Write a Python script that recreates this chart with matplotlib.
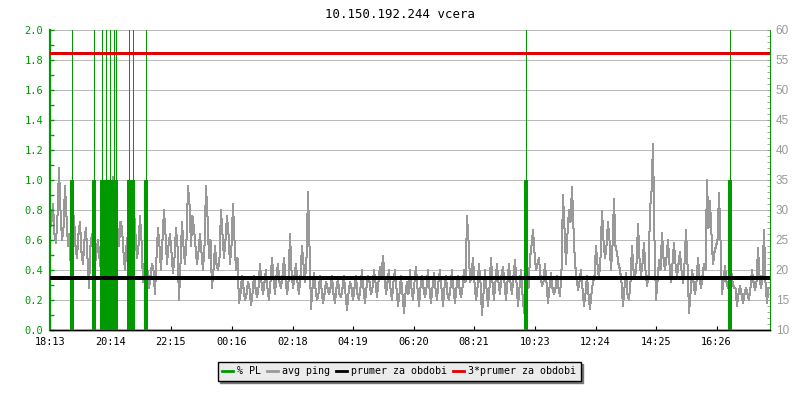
import numpy as np
import matplotlib
matplotlib.use("Agg")
import matplotlib.pyplot as plt
from matplotlib.ticker import MultipleLocator, FormatStrFormatter

# avg ping [ms], read every 6 minutes starting 18:13 (local peaks / dips)
ping_step = 6
ping_values = [
    # 18:13 - 22:13
    27, 31, 24.5, 37, 25, 34, 24, 19.5, 29, 22, 28, 21, 27, 17, 26, 21, 25, 20, 32, 24,
    31, 35.5, 33, 24, 27, 20, 26, 21, 30, 22, 29, 18, 22, 17, 21, 16, 27, 20, 30, 21,
    # 22:13 - 02:13
    26, 19.5, 27, 15, 28, 21, 34, 24, 27, 21, 26, 20, 34, 22, 17, 24, 20, 30, 22, 29,
    21, 31, 20, 14.5, 19, 15, 18, 14.2, 19, 15.5, 21, 16, 20, 15, 22, 16, 21, 17, 22, 16,
    # 02:13 - 06:13
    26, 17, 21, 16, 24, 18, 33, 13.5, 19.5, 15, 19, 14.5, 18, 16, 19, 14.5, 18.5, 15.5, 19, 13.4,
    18, 15, 19, 15, 20, 14.5, 19, 16, 20, 15.5, 20.5, 22.3, 16, 20, 15, 20, 14, 19, 12.9, 18,
    # 06:13 - 10:13
    20, 15, 20.5, 14, 19, 15.5, 20, 14.5, 19.5, 15, 20, 14, 19, 15, 20, 14.5, 19, 15.5, 20, 29,
    18, 22, 15, 21, 12.5, 20, 14, 22, 15, 21, 16, 20.5, 15, 21, 16, 21.7, 14, 20, 12.8, 19,
    # 10:13 - 14:13
    22, 26.7, 20, 22, 17.3, 21, 14.5, 19.5, 16, 19, 15.6, 32.5, 21, 30, 33.8, 21, 16.7, 20, 14, 19,
    13.5, 18, 24, 18.5, 29.9, 22, 28, 20, 31.8, 22.8, 20, 14, 19.5, 15, 24, 18.5, 27.7, 19, 24.5, 17.3,
    # 14:13 - 18:13
    30, 41, 15, 21.7, 26.2, 20, 25, 18, 24.5, 19, 23, 17.8, 26.7, 12.8, 20, 16, 22, 17, 21, 35,
    31.5, 21, 24, 32.8, 16, 20.6, 17, 20, 17, 14, 17.3, 14.5, 17, 15, 20, 16.7, 23.7, 17, 26.7, 14.5,
]
# avg ping in between (3 minutes after each reading above), middle of the band
ping_mid = [
    28, 26, 29, 30, 27, 29, 26, 25, 24, 26, 23, 25, 22, 24, 21, 23, 22, 27, 28, 26,
    29, 30, 27, 28, 23, 24, 22, 25, 26, 24, 25, 21, 20, 19, 20, 22, 24, 25, 26, 24,
    23, 22, 24, 21, 24, 25, 31, 29, 24, 23, 23, 24, 29, 25, 20, 21, 22, 26, 25, 26,
    24, 25, 22, 16, 17, 16, 17, 16, 17, 17, 18, 18, 17, 18, 19, 19, 18, 19, 19, 18,
    20, 19, 18, 19, 21, 22, 24, 17, 17, 16, 17, 16, 17, 17, 16, 17, 16, 17, 16, 16,
    17, 17, 16, 17, 17, 17, 18, 17, 18, 18, 19, 19, 18, 17, 18, 17, 16, 16, 16, 16,
    17, 18, 17, 17, 17, 17, 17, 17, 17, 18, 17, 17, 16, 17, 17, 17, 17, 17, 18, 25,
    19, 18, 17, 18, 16, 17, 17, 18, 18, 18, 19, 18, 18, 18, 19, 18, 17, 16, 16, 17,
    24, 23, 21, 19, 18, 18, 17, 17, 17, 17, 20, 27, 26, 28, 27, 19, 18, 17, 16, 16,
    16, 19, 21, 22, 25, 24, 25, 24, 24, 21, 18, 17, 16, 18, 20, 21, 22, 21, 20, 19,
    33, 25, 18, 20, 22, 22, 21, 21, 21, 21, 20, 21, 21, 16, 18, 18, 19, 19, 20, 27,
    26, 23, 25, 25, 18, 18, 19, 18, 17, 16, 16, 16, 16, 17, 18, 18, 19, 19, 18, 17,
]

# packet loss spikes [minutes after 18:13]
pl_times = [43, 87, 103, 111, 119, 127, 132, 158, 165, 191, 951, 1360]
pl_avg = [1.0, 1.0, 1.0, 1.0, 1.0, 1.0, 1.0, 1.0, 1.0, 1.0, 1.0, 1.0]
pl_max = [2.0, 2.0, 2.0, 2.0, 2.0, 2.0, 2.0, 2.0, 2.0, 2.0, 2.0, 2.0]

prumer = 18.7  # average ping over the period

tick_pos = [0, 121, 242, 363, 485, 606, 727, 848, 970, 1091, 1212, 1333]
tick_labels = ["18:13", "20:14", "22:15", "00:16", "02:18", "04:19",
               "06:20", "08:21", "10:23", "12:24", "14:25", "16:26"]

GREEN = "#009900"
GRAY = "#999999"
RED = "#e00000"
PX = 0.72  # one pixel in points at dpi 100

plt.rcParams["font.family"] = ["DejaVu Sans Mono", "Liberation Mono"]

fig = plt.figure(figsize=(8, 4), dpi=100)
ax2 = fig.add_axes([0.0625, 0.175, 0.9, 0.75])   # right axis: ping
ax = ax2.twinx()                                   # left axis: PL
ax.yaxis.tick_left()
ax2.yaxis.tick_right()
ax.set_zorder(ax2.get_zorder() + 1)
ax.patch.set_visible(False)

# ping series, readings and in-between values interleaved
t = np.arange(2 * len(ping_values)) * (ping_step / 2)
ping = np.ravel(np.column_stack([ping_values, ping_mid]))
ax2.plot(t, ping, color=GRAY, lw=PX, antialiased=False, zorder=2)
ax2.set_ylim(10, 60)
ax2.set_xlim(0, 1440)
ax2.yaxis.set_major_locator(MultipleLocator(5))
ax2.yaxis.set_minor_locator(MultipleLocator(1))
ax2.grid(axis="y", color="#bbbbbb", lw=PX, antialiased=False, zorder=0)
ax2.tick_params(axis="y", which="both", direction="in", colors=GRAY,
                labelcolor=GRAY, labelsize=8.5, length=2.5, pad=4,
                left=False, right=True, labelleft=False, labelright=True)
for lab in ax2.get_yticklabels():
    lab.set_family("Liberation Sans")

# packet loss
ax.set_ylim(0, 2.0)
ax.set_xlim(0, 1440)
ax.vlines(pl_times, 0, pl_avg, color=GREEN, lw=1.5, antialiased=False, zorder=3)
ax.vlines(pl_times, pl_avg, pl_max, color=GREEN, lw=PX, antialiased=False, zorder=3)

# average and 3*average (ping units shown on the PL scale)
to_pl = lambda v: (v - 10) / 25.0
ax.axhline(to_pl(prumer), color="black", lw=1.5, antialiased=False, zorder=4)
ax.axhline(to_pl(3 * prumer), color=RED, lw=0.8, antialiased=False, zorder=4)

ax.yaxis.set_major_locator(MultipleLocator(0.2))
ax.yaxis.set_minor_locator(MultipleLocator(0.1))
ax.yaxis.set_major_formatter(FormatStrFormatter("%.1f"))
ax.tick_params(axis="y", which="both", direction="in", colors=GREEN,
               labelcolor=GREEN, labelsize=7.5, length=3, width=1, pad=5,
               left=True, right=False, labelleft=True, labelright=False)

ax2.set_xticks(tick_pos)
ax2.set_xticklabels(tick_labels)
ax2.tick_params(axis="x", direction="in", length=3, labelsize=7.4, pad=5)
ax.tick_params(axis="x", bottom=False, labelbottom=False)

for a in (ax, ax2):
    a.spines["top"].set_visible(False)
    a.spines["left"].set_color(GREEN)
    a.spines["left"].set_linewidth(1.5)
    a.spines["right"].set_color(GREEN)
    a.spines["right"].set_linewidth(PX)
    a.spines["bottom"].set_color("black")
    a.spines["bottom"].set_linewidth(1.0)

fig.text(0.5, 0.965, "10.150.192.244 vcera", ha="center", va="center", fontsize=8.9)

handles = [
    plt.Line2D([], [], color=GREEN, lw=2),
    plt.Line2D([], [], color=GRAY, lw=2),
    plt.Line2D([], [], color="black", lw=2),
    plt.Line2D([], [], color=RED, lw=2),
]
labels = ["% PL", "avg ping", "prumer za obdobi", "3*prumer za obdobi"]
leg = fig.legend(handles, labels, loc="center", bbox_to_anchor=(0.499, 0.0725),
                 ncol=4, fontsize=7.2, handlelength=1.1, handletextpad=0.4,
                 columnspacing=0.6, borderpad=0.45, frameon=True, fancybox=False,
                 framealpha=1, facecolor="#ebebeb", edgecolor="black",
                 shadow={"color": "#777777", "alpha": 1.0})
leg.get_frame().set_linewidth(1)

fig.savefig("out.png", dpi=100)
